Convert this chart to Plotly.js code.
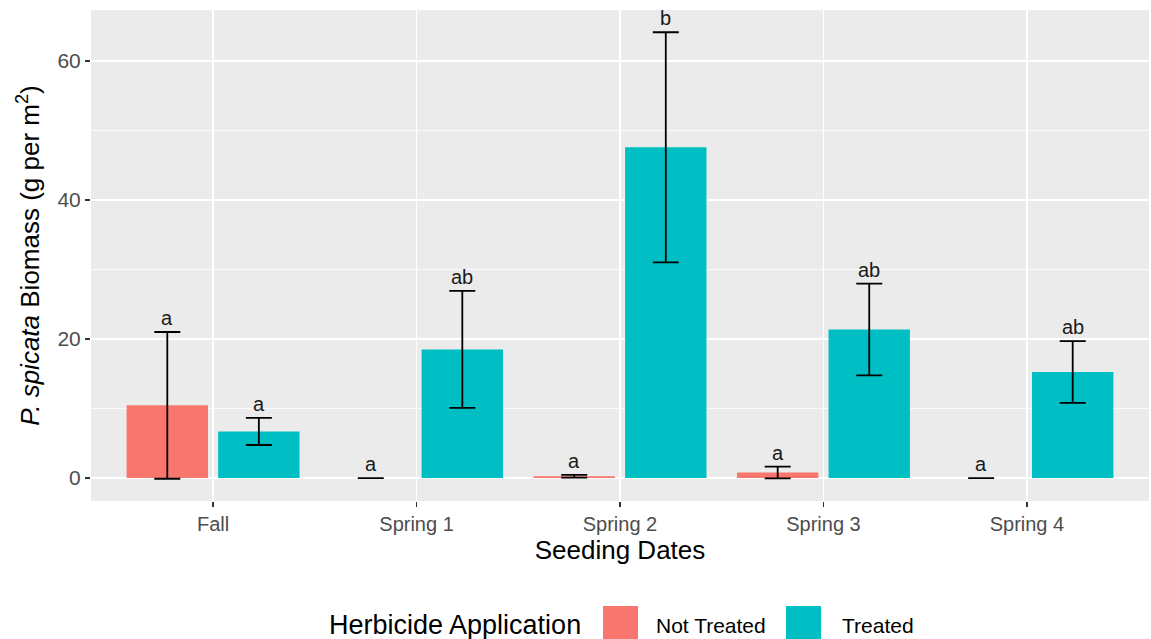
<!DOCTYPE html>
<html>
<head>
<meta charset="utf-8">
<script src="https://cdn.plot.ly/plotly-3.0.1.min.js"></script>
<style>
  html, body { margin: 0; padding: 0; background: #ffffff; }
  #chart { width: 1151px; height: 639px; }
</style>
</head>
<body>
<div id="chart"></div>
<script>
// Seeding dates on the x axis
const seedingDates = ['Fall', 'Spring 1', 'Spring 2', 'Spring 3', 'Spring 4'];

// Mean P. spicata biomass (g per m2) and standard errors, by herbicide application
const notTreatedMean = [10.45, 0, 0.25, 0.8, 0];
const notTreatedSE   = [10.55, 0, 0.2, 0.85, 0];
const treatedMean    = [6.7, 18.5, 47.55, 21.35, 15.25];
const treatedSE      = [1.95, 8.4, 16.55, 6.6, 4.45];

// Compact letter display for each bar
const notTreatedLetters = ['a', 'a', 'a', 'a', 'a'];
const treatedLetters    = ['a', 'ab', 'b', 'ab', 'ab'];

// Legend entries
const legendTitle = 'Herbicide Application';
const groupNames = ['Not Treated', 'Treated'];

const RED = '#F8766D';
const TEAL = '#00BFC4';
const FONT = 'Liberation Sans, Arial, Helvetica, sans-serif';

const W = 1151, H = 639;
const margin = { l: 91, r: 2, t: 10, b: 138 };
const plotW = W - margin.l - margin.r;
const plotH = H - margin.t - margin.b;

// Group layout: bargap 0.1 gives two slots of 0.45 each, bars centred at +/-0.225
const bargap = 0.1;
const bargroupgap = 0.111;
const slot = (1 - bargap) / 2;
const dodge = slot / 2;

const errStyle = (arr) => ({
  type: 'data', array: arr, visible: true,
  color: '#000000', thickness: 1.8, width: 13
});

const traces = [
  {
    type: 'bar', name: groupNames[0], x: seedingDates, y: notTreatedMean,
    marker: { color: RED }, error_y: errStyle(notTreatedSE),
    showlegend: false, hoverinfo: 'skip'
  },
  {
    type: 'bar', name: groupNames[1], x: seedingDates, y: treatedMean,
    marker: { color: TEAL }, error_y: errStyle(treatedSE),
    showlegend: false, hoverinfo: 'skip'
  }
];

// Letters sit just above the top of each error bar
const annotations = [];
seedingDates.forEach((d, i) => {
  annotations.push({
    x: i - dodge, y: notTreatedMean[i] + notTreatedSE[i], xref: 'x', yref: 'y',
    text: notTreatedLetters[i], showarrow: false, yanchor: 'bottom', yshift: 1,
    font: { family: FONT, size: 20, color: '#1a1a1a' }
  });
  annotations.push({
    x: i + dodge, y: treatedMean[i] + treatedSE[i], xref: 'x', yref: 'y',
    text: treatedLetters[i], showarrow: false, yanchor: 'bottom', yshift: 1,
    font: { family: FONT, size: 20, color: '#1a1a1a' }
  });
});

// Bottom legend built in pixel terms, converted to paper coordinates
const px = (x) => (x - margin.l) / plotW;
const py = (y) => (H - margin.b - y) / plotH;
const legendMidY = 625;

annotations.push({
  xref: 'paper', yref: 'paper', x: px(327), y: py(legendMidY),
  xanchor: 'left', yanchor: 'middle', showarrow: false, text: legendTitle,
  font: { family: FONT, size: 27, color: '#000000' }
});
annotations.push({
  xref: 'paper', yref: 'paper', x: px(654), y: py(legendMidY),
  xanchor: 'left', yanchor: 'middle', showarrow: false, text: groupNames[0],
  font: { family: FONT, size: 21, color: '#000000' }
});
annotations.push({
  xref: 'paper', yref: 'paper', x: px(840), y: py(legendMidY),
  xanchor: 'left', yanchor: 'middle', showarrow: false, text: groupNames[1],
  font: { family: FONT, size: 21, color: '#000000' }
});

const shapes = [
  { type: 'rect', xref: 'paper', yref: 'paper', x0: px(603), x1: px(638), y0: py(642), y1: py(606),
    fillcolor: RED, line: { width: 0 } },
  { type: 'rect', xref: 'paper', yref: 'paper', x0: px(786), x1: px(821), y0: py(642), y1: py(606),
    fillcolor: TEAL, line: { width: 0 } }
];

const layout = {
  width: W, height: H,
  margin: margin,
  paper_bgcolor: '#ffffff',
  plot_bgcolor: '#EBEBEB',
  barmode: 'group',
  bargap: bargap,
  bargroupgap: bargroupgap,
  showlegend: false,
  font: { family: FONT, color: '#000000' },
  xaxis: {
    type: 'category',
    range: [-0.6, 4.6],
    showgrid: true, gridcolor: '#ffffff', gridwidth: 1.6,
    zeroline: false, showline: false,
    ticks: 'outside', ticklen: 5, tickwidth: 1.5, tickcolor: '#333333',
    tickfont: { family: FONT, size: 20, color: '#4D4D4D' },
    title: { text: 'Seeding Dates', standoff: 4,
             font: { family: FONT, size: 26, color: '#000000' } },
    automargin: false, fixedrange: true
  },
  yaxis: {
    range: [-3.3, 67.3],
    tickvals: [0, 20, 40, 60],
    showgrid: true, gridcolor: '#ffffff', gridwidth: 1.6,
    minor: { tickvals: [10, 30, 50], showgrid: true, gridcolor: '#ffffff', gridwidth: 0.8, ticks: '' },
    zeroline: false, showline: false,
    ticks: 'outside', ticklen: 5, tickwidth: 1.5, tickcolor: '#333333',
    tickfont: { family: FONT, size: 21, color: '#4D4D4D' },
    title: { text: '<i>P. spicata</i> Biomass (g per m<sup>2</sup>)', standoff: 10,
             font: { family: FONT, size: 26, color: '#000000' } },
    automargin: false, fixedrange: true
  },
  annotations: annotations,
  shapes: shapes
};

Plotly.newPlot('chart', traces, layout, { displayModeBar: false, staticPlot: true });
</script>
</body>
</html>
